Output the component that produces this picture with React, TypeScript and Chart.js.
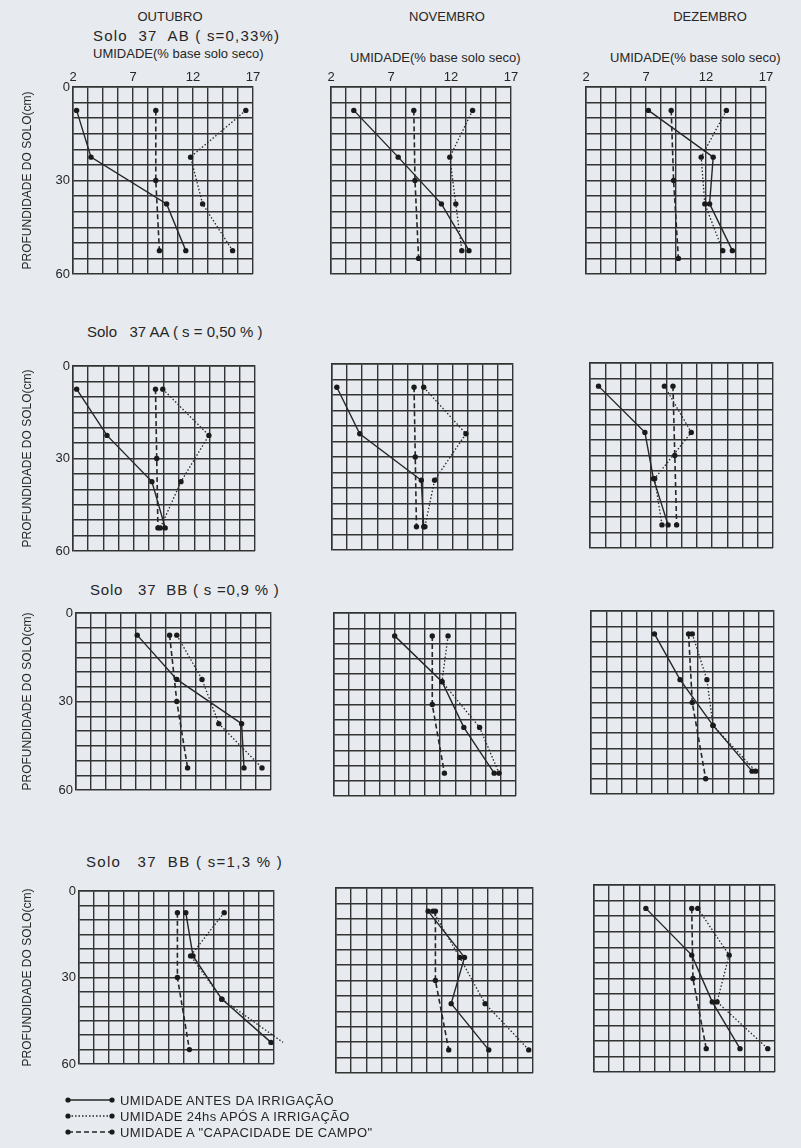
import React, { useEffect, useRef } from 'react';
import { Chart, registerables } from 'chart.js';
Chart.register(...registerables);

// ---------- text ----------
const MONTHS = ['OUTUBRO', 'NOVEMBRO', 'DEZEMBRO'];
const SOIL_TITLES = [
  'Solo  37  AB ( s=0,33%)',
  'Solo   37 AA ( s = 0,50 % )',
  'Solo   37  BB ( s =0,9 % )',
  'Solo   37  BB ( s=1,3 % )',
];
const X_AXIS_TITLE = 'UMIDADE(% base solo seco)';
const Y_AXIS_TITLE = 'PROFUNDIDADE DO SOLO(cm)';
const X_TICK_LABELS = [2, 7, 12, 17];
const Y_TICK_LABELS = [0, 30, 60];
const LEGEND_LABELS = [
  'UMIDADE ANTES DA IRRIGAÇÃO',
  'UMIDADE 24hs APÓS A IRRIGAÇÃO',
  'UMIDADE A "CAPACIDADE DE CAMPO"',
];

// ---------- data (moisture % dry-soil basis, per month [OUT, NOV, DEZ]) ----------
const DEPTHS = [7.5, 22.5, 37.5, 52.5];
const CC_DEPTHS_A = [7.5, 30, 52.5];
const CC_DEPTHS_B = [7.5, 30, 55];

const ANTES_37AB = [[2.3, 3.5, 9.8, 11.4], [3.9, 7.6, 11.2, 13.5], [7.2, 12.6, 12.3, 14.2]];
const APOS_37AB = [[16.4, 11.8, 12.8, 15.3], [13.8, 11.9, 12.4, 12.9], [13.7, 11.6, 11.9, 13.4]];
const CC_37AB = [[8.9, 8.9, 9.2], [8.9, 9.0, 9.3], [9.1, 9.3, 9.7]];

const ANTES_37AA = [[2.3, 4.8, 8.5, 9.6], [2.4, 4.3, 9.4, 9.6], [2.7, 6.5, 7.2, 8.4]];
const APOS_37AA = [[9.4, 13.2, 10.9, 9.2], [9.6, 13.1, 10.5, 9.7], [8.1, 10.3, 7.3, 7.9]];
const CC_37AA = [[8.8, 8.9, 9.0], [8.8, 8.9, 9.0], [8.8, 8.95, 9.1]];

const ANTES_37BB_09 = [[7.1, 10.4, 15.8, 16.0], [7.0, 10.9, 12.7, 15.2], [7.2, 9.3, 12.0, 15.2]];
const APOS_37BB_09 = [[10.4, 12.5, 13.9, 17.5], [11.4, 10.9, 14.0, 15.6], [10.3, 11.5, 12.0, 15.5]];
const CC_37BB_09 = [[9.8, 10.4, 11.3], [10.1, 10.1, 11.1], [10.0, 10.3, 11.4]];

const ANTES_37BB_13 = [[10.9, 11.5, 13.9, 18.0], [9.6, 12.6, 11.5, 14.6], [6.3, 10.1, 11.8, 14.1]];
const APOS_37BB_13 = [[14.1, 11.3, 13.9, 19.0], [10.0, 12.2, 14.3, 17.9], [10.6, 13.2, 12.2, 16.4]];
const CC_37BB_13 = [[10.2, 10.2, 11.2], [10.2, 10.2, 11.3], [10.1, 10.2, 11.3]];

const CC_DEPTH_CHOICE = [
  [CC_DEPTHS_A, CC_DEPTHS_B, CC_DEPTHS_B],
  [CC_DEPTHS_A, CC_DEPTHS_A, CC_DEPTHS_A],
  [CC_DEPTHS_A, CC_DEPTHS_A, CC_DEPTHS_B],
  [CC_DEPTHS_B, CC_DEPTHS_A, CC_DEPTHS_A],
];
const X_MAX = [
  [17, 17, 17],
  [17, 17, 17],
  [18.25, 17, 17],
  [18.25, 18.25, 17],
];

// ---------- layout / style ----------
const GRID_RECTS = [
  [[73, 87, 180, 187], [331, 87, 180, 187], [586, 87, 180, 187]],
  [[73, 366, 182, 185], [332, 364, 181, 186], [590, 363, 183, 185]],
  [[76, 613, 195, 177], [334, 613, 182, 183], [591, 611, 183, 183]],
  [[79, 891, 195, 173], [336, 888, 197, 185], [594, 885, 181, 187]],
];
const TITLE_SPACING = [1.2, 0, 0.8, 1.3];
const FONT = '"Liberation Sans", Arial, sans-serif';
const BG = '#e7eaee';
const INK = '#262626';
const GRID = '#333333';

type PanelProps = {
  rect: number[]; row: number; col: number;
  antes: number[]; apos: number[]; cc: number[]; ccDepths: number[]; xMax: number;
};

function Panel({ rect, row, col, antes, apos, cc, ccDepths, xMax }: PanelProps) {
  const ref = useRef<HTMLCanvasElement>(null);
  const [gx, gy, gw, gh] = rect;
  const padL = col === 0 ? gx : 6;
  const padT = 26;
  const padR = 28;
  const padB = 30;
  const left = gx - padL;
  const top = gy - padT;
  const W = gw + padL + padR;
  const H = gh + padT + padB;

  useEffect(() => {
    const mk = (xs: number[], ds: number[], dash: number[], width: number) => ({
      data: xs.map((x, i) => ({ x, y: ds[i] })),
      showLine: true,
      borderColor: '#262626',
      backgroundColor: '#1a1a1a',
      pointBackgroundColor: '#1a1a1a',
      pointBorderColor: '#1a1a1a',
      pointRadius: 2.7,
      pointBorderWidth: 0,
      borderWidth: width,
      borderDash: dash,
      clip: false as any,
      tension: 0,
    });
    const chart = new Chart(ref.current as HTMLCanvasElement, {
      type: 'scatter',
      data: {
        datasets: [
          mk(antes, DEPTHS, [], 1.4),
          mk(apos, DEPTHS, [1.5, 2], 1.3),
          mk(cc, ccDepths, [5, 3], 1.6),
        ],
      },
      options: {
        responsive: false,
        maintainAspectRatio: false,
        animation: false,
        events: [],
        layout: { padding: { left: 0, top: 0, right: padR, bottom: padB }, autoPadding: false },
        plugins: { legend: { display: false }, tooltip: { enabled: false } },
        scales: {
          x: {
            type: 'linear',
            position: 'top',
            min: 2,
            max: xMax,
            ticks: {
              stepSize: 1.25,
              autoSkip: false,
              maxTicksLimit: 40,
              maxRotation: 0,
              display: row === 0,
              padding: 2,
              color: INK,
              font: { family: FONT, size: 13 },
              callback: (v: any) => (X_TICK_LABELS.some((t) => Math.abs(t - v) < 1e-6) ? String(v) : ''),
            },
            grid: { color: GRID, lineWidth: 1.4, drawTicks: false },
            border: { display: true, color: GRID, width: 1.5 },
            afterFit: (s: any) => { s.height = padT; },
          },
          y: {
            type: 'linear',
            position: 'left',
            reverse: true,
            min: 0,
            max: 60,
            ticks: {
              stepSize: 5,
              autoSkip: false,
              maxTicksLimit: 40,
              display: col === 0,
              padding: 3,
              color: INK,
              font: { family: FONT, size: 13 },
              callback: (v: any) => (Y_TICK_LABELS.some((t) => Math.abs(t - v) < 1e-6) ? String(v) : ''),
            },
            title: {
              display: col === 0,
              text: Y_AXIS_TITLE,
              color: INK,
              font: { family: FONT, size: 12 },
              padding: { top: 20, bottom: 0 },
            },
            grid: { color: GRID, lineWidth: 1.4, drawTicks: false },
            border: { display: true, color: GRID, width: 1.5 },
            afterFit: (s: any) => { s.width = padL; },
          },
        },
      } as any,
    });
    return () => chart.destroy();
  }, []);

  return (
    <canvas
      ref={ref}
      width={W}
      height={H}
      style={{ position: 'absolute', left, top, width: W, height: H }}
    />
  );
}

function Text({ x, y, size, children, center, spacing }: any) {
  return (
    <div
      style={{
        position: 'absolute',
        left: x,
        top: y,
        fontSize: size,
        lineHeight: 1,
        whiteSpace: 'pre',
        letterSpacing: spacing ? spacing : undefined,
        transform: center ? 'translate(-50%, -50%)' : 'translateY(-50%)',
        color: INK,
        fontFamily: FONT,
      }}
    >
      {children}
    </div>
  );
}

export default function App() {
  const soils = [
    { antes: ANTES_37AB, apos: APOS_37AB, cc: CC_37AB },
    { antes: ANTES_37AA, apos: APOS_37AA, cc: CC_37AA },
    { antes: ANTES_37BB_09, apos: APOS_37BB_09, cc: CC_37BB_09 },
    { antes: ANTES_37BB_13, apos: APOS_37BB_13, cc: CC_37BB_13 },
  ];
  const monthX = [170, 447, 710];
  const umidPos = [[93, 53], [350, 57], [610, 57]];
  const soilPos = [[93, 35], [87, 331], [90, 589], [86, 861]];
  const legendY = [1100, 1116, 1132];
  const legendDash = ['', '1.5 2', '5 3'];

  return (
    <div style={{ position: 'absolute', left: 0, top: 0, width: 801, height: 1148, background: BG, overflow: 'hidden' }}>
      {MONTHS.map((m, i) => (
        <Text key={m} x={monthX[i]} y={16} size={13} center>{m}</Text>
      ))}
      {umidPos.map((p, i) => (
        <Text key={'u' + i} x={p[0]} y={p[1]} size={13}>{X_AXIS_TITLE}</Text>
      ))}
      {SOIL_TITLES.map((t, i) => (
        <Text key={'s' + i} x={soilPos[i][0]} y={soilPos[i][1]} size={15} spacing={TITLE_SPACING[i]}>{t}</Text>
      ))}
      {soils.map((s, r) =>
        [0, 1, 2].map((c) => (
          <Panel
            key={r + '-' + c}
            rect={GRID_RECTS[r][c]}
            row={r}
            col={c}
            antes={s.antes[c]}
            apos={s.apos[c]}
            cc={s.cc[c]}
            ccDepths={CC_DEPTH_CHOICE[r][c]}
            xMax={X_MAX[r][c]}
          />
        ))
      )}
      <svg style={{ position: 'absolute', left: 0, top: 0 }} width={801} height={1148}>
        {legendY.map((y, i) => (
          <g key={i}>
            <line x1={68} y1={y} x2={112} y2={y} stroke="#262626" strokeWidth={1.4} strokeDasharray={legendDash[i] || undefined} />
            <circle cx={68} cy={y} r={2.6} fill="#1a1a1a" />
            <circle cx={112} cy={y} r={2.6} fill="#1a1a1a" />
          </g>
        ))}
      </svg>
      {LEGEND_LABELS.map((t, i) => (
        <Text key={'l' + i} x={120} y={legendY[i]} size={13} spacing={0.4}>{t}</Text>
      ))}
    </div>
  );
}
